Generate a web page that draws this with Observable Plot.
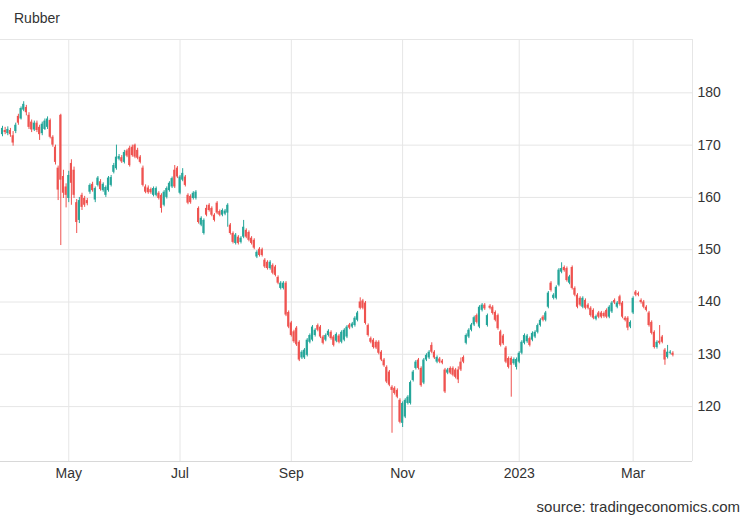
<!DOCTYPE html>
<html><head><meta charset="utf-8">
<script src="https://cdn.jsdelivr.net/npm/d3@7"></script>
<script src="https://cdn.jsdelivr.net/npm/@observablehq/plot@0.6"></script>
<style>
body{margin:0;background:#fff;font-family:"Liberation Sans",Arial,sans-serif;}
#wrap{position:relative;width:750px;height:520px;overflow:hidden;}
#title{position:absolute;left:14px;top:10px;font-size:14px;color:#333;}
#chart{position:absolute;left:0;top:38px;}
#source{position:absolute;right:10px;top:498px;font-size:15px;color:#333;}
</style></head><body>
<div id="wrap"><div id="title">Rubber</div><div id="chart"></div><div id="source">source: tradingeconomics.com</div></div>
<script>
const opens = [172.0,172.8,172.2,172.8,171.8,172.6,175.5,175.0,176.7,177.2,175.7,174.4,172.9,174.2,173.4,172.2,173.0,173.4,174.7,171.5,169.6,165.6,175.7,164.0,162.0,159.8,166.5,165.2,159.0,155.6,160.4,159.8,159.4,161.0,162.5,159.5,162.3,163.0,161.3,160.4,161.3,162.3,164.8,165.5,167.3,167.6,166.7,168.9,169.4,169.6,170.0,169.0,167.7,165.6,162.0,161.8,161.5,160.4,160.4,160.8,160.4,158.5,160.0,161.3,162.0,165.2,165.6,160.8,163.3,163.9,160.4,160.2,159.8,159.8,157.9,154.7,153.1,157.9,158.5,157.9,156.6,158.9,157.3,156.6,156.8,157.0,154.7,153.1,151.2,152.4,151.4,152.4,153.7,153.3,152.2,151.8,148.6,150.1,150.0,148.0,147.6,146.4,147.0,146.7,144.7,142.6,142.6,143.6,138.0,136.0,134.3,135.0,132.3,129.3,129.3,129.8,132.3,132.7,133.6,135.5,135.2,133.3,132.7,133.6,134.2,133.3,132.5,133.5,132.3,132.7,133.3,135.6,135.2,135.5,136.5,140.0,140.2,139.8,135.5,133.0,132.7,132.3,132.3,130.4,128.9,127.5,126.6,123.7,123.5,123.1,121.2,116.8,118.0,120.6,120.6,125.0,127.3,128.9,127.3,124.5,128.9,129.3,131.7,130.4,128.5,129.1,128.7,127.0,126.4,127.3,127.3,127.0,127.0,128.5,129.4,132.1,133.3,134.6,135.6,137.4,135.2,138.4,139.4,135.5,139.2,139.0,138.0,137.4,134.3,133.5,131.2,129.2,129.2,128.2,127.5,128.5,130.2,132.1,132.4,133.0,132.7,133.3,134.2,135.5,137.1,136.5,139.0,143.6,140.7,140.7,143.2,145.7,146.6,146.4,143.6,146.6,142.6,141.3,140.7,139.0,140.3,139.4,138.8,138.4,136.7,137.9,137.9,137.8,138.4,137.1,138.1,140.3,139.0,141.0,139.8,136.9,136.9,135.2,137.9,141.9,141.6,140.3,140.0,139.0,137.9,136.1,134.2,131.3,132.5,133.3,130.8,129.4,130.2,130.2];
const closes = [173.2,172.4,173.0,172.0,170.4,173.8,174.2,177.0,177.8,176.2,173.4,172.9,174.2,172.8,172.0,174.0,174.6,175.0,171.5,170.0,166.7,161.4,163.3,160.8,160.4,164.2,162.7,160.4,155.2,159.4,158.1,158.5,158.8,162.3,161.3,161.7,163.7,161.5,162.5,161.9,163.7,163.8,166.1,167.7,167.8,166.8,168.6,167.9,166.1,168.0,167.7,167.5,166.7,162.3,161.0,160.9,160.9,161.7,161.7,159.8,157.9,161.0,161.7,162.7,163.6,162.0,163.9,163.9,164.6,162.3,158.9,159.0,160.8,161.0,155.2,156.0,155.6,156.6,157.5,156.6,155.6,157.0,156.6,157.5,157.4,158.5,153.1,151.4,152.8,151.2,152.2,154.3,152.4,151.8,151.2,150.3,149.5,148.9,148.9,146.7,146.4,147.6,145.5,145.1,143.6,143.6,143.6,137.5,135.2,133.6,132.4,131.8,128.9,130.4,130.8,132.7,133.6,135.2,134.6,134.6,133.3,132.1,133.6,134.4,133.0,131.7,133.8,132.3,134.2,134.6,135.2,135.0,135.8,136.9,137.9,138.8,138.8,135.9,133.6,132.3,131.3,131.2,130.2,128.9,127.8,124.7,124.1,123.1,122.5,121.8,117.0,120.6,121.2,121.8,124.6,126.6,128.5,127.3,124.0,128.9,129.8,130.4,130.4,129.3,129.4,128.5,128.3,122.8,127.0,126.4,126.0,125.6,125.1,127.0,128.5,133.6,134.6,135.6,137.0,136.1,139.0,139.4,138.7,137.4,138.8,137.8,136.5,134.9,131.7,132.0,128.5,127.5,127.9,129.0,129.0,130.2,132.3,133.6,133.5,131.7,134.0,134.2,135.5,136.5,136.5,137.9,141.7,142.2,141.3,142.8,146.1,146.4,146.0,144.1,144.8,142.6,141.3,139.0,139.4,140.7,138.8,138.8,137.4,136.9,137.2,137.1,137.1,137.2,137.1,139.0,139.8,139.8,139.8,139.5,137.1,136.5,135.0,136.1,140.7,141.3,141.3,139.9,139.0,138.4,135.5,134.0,131.3,132.3,132.1,132.3,128.9,130.4,130.4,129.8];
const highs = [173.6,173.4,173.5,173.2,172.6,174.2,175.9,177.3,178.3,177.6,176.2,174.8,174.6,174.6,173.8,174.4,175.0,175.4,175.0,171.8,170.0,166.0,175.9,165.2,162.6,165.0,167.2,165.8,159.6,160.0,160.8,160.2,159.8,162.6,162.9,162.0,164.0,163.4,162.8,162.2,164.0,164.2,166.5,170.0,168.2,168.0,169.0,169.2,169.8,170.0,170.2,169.4,168.0,166.0,162.4,162.2,161.8,162.0,162.0,161.1,160.7,161.3,162.0,163.0,163.9,166.1,165.9,164.2,165.5,164.2,160.7,160.5,161.1,161.3,158.2,156.3,155.9,158.5,158.8,158.2,156.9,159.2,157.6,157.8,157.7,158.8,155.0,153.4,153.1,152.7,152.5,155.6,154.0,153.6,152.5,152.1,149.8,150.4,150.3,148.3,147.9,147.9,147.3,147.0,145.0,143.9,143.9,143.9,138.3,136.3,134.6,135.3,132.6,130.7,131.1,133.0,133.9,135.5,134.9,135.8,135.5,133.6,133.9,134.7,134.5,133.6,134.1,133.8,134.5,134.9,135.5,135.9,136.1,137.2,138.2,140.8,140.5,140.1,135.8,133.3,133.0,132.6,132.6,130.7,129.2,127.8,126.9,124.0,123.8,123.4,121.5,120.9,121.5,122.1,124.9,126.9,128.8,129.2,127.6,129.2,130.1,130.7,132.2,130.7,129.7,129.4,129.0,127.3,127.3,127.6,127.6,127.3,127.6,129.3,129.7,133.9,134.9,135.9,137.3,137.7,139.3,139.7,139.7,137.7,139.5,139.3,138.3,137.7,134.6,133.8,131.5,129.5,129.5,129.3,129.3,130.5,132.6,133.9,133.8,133.3,134.3,134.5,135.8,136.8,137.4,138.2,142.0,143.9,141.6,143.1,146.4,147.5,146.9,146.7,145.1,146.9,142.9,141.6,141.0,141.0,140.6,139.7,139.1,138.7,137.5,138.2,138.2,138.1,138.7,139.3,140.1,140.6,140.1,141.3,140.1,137.2,137.2,136.4,141.0,142.2,141.9,140.6,140.3,139.3,138.2,136.4,134.5,132.6,135.5,133.6,131.1,131.7,130.7,130.5];
const lows = [171.6,172.0,171.8,171.5,169.8,172.2,173.8,174.8,176.4,175.6,173.0,172.4,172.6,172.4,170.9,171.8,172.8,173.0,171.2,169.6,166.2,159.4,150.8,159.8,158.0,159.0,158.5,159.8,153.1,155.0,157.5,158.1,158.4,160.6,161.0,159.0,162.0,161.2,161.0,160.0,161.0,162.0,164.5,165.2,167.0,166.5,166.4,167.6,165.8,167.7,167.4,167.2,166.4,162.0,160.7,160.6,160.6,160.1,160.1,159.5,157.0,158.2,159.7,161.0,161.7,161.7,163.6,160.5,163.0,162.0,158.6,158.7,159.5,159.5,154.9,154.4,152.8,156.3,157.2,156.3,155.3,156.7,156.3,156.3,156.5,154.3,152.8,151.1,150.9,150.9,151.1,152.1,152.1,151.5,150.9,150.0,148.3,148.6,148.6,146.4,146.1,146.1,145.2,144.8,143.3,142.3,142.3,137.2,134.9,133.3,132.1,131.5,128.6,129.0,129.0,129.5,132.0,132.4,133.3,134.3,133.0,131.8,132.4,133.3,132.7,131.4,132.2,132.0,132.0,132.4,133.0,134.7,134.9,135.2,136.2,138.5,138.5,135.6,133.3,132.0,131.0,130.9,129.9,128.6,127.5,124.4,123.8,114.9,122.2,121.5,116.7,116.0,117.7,120.3,120.3,124.7,127.0,127.0,123.7,124.2,128.6,129.0,130.1,129.0,128.2,128.2,128.0,122.5,126.1,126.1,125.7,125.3,124.4,126.7,128.2,131.8,133.0,134.3,135.3,135.8,134.9,138.1,138.4,135.2,138.5,137.5,136.2,134.6,131.4,131.7,128.2,127.2,121.8,127.9,127.0,128.2,129.9,131.8,132.1,131.4,132.4,133.0,133.9,135.2,136.2,136.2,138.7,141.9,140.4,140.4,142.9,145.4,145.7,143.8,143.3,142.3,141.0,138.7,139.1,138.7,138.5,138.5,137.1,136.6,136.4,136.8,136.8,136.9,136.8,136.8,137.8,139.5,138.7,139.2,136.8,136.2,134.5,134.9,137.6,141.0,141.0,139.6,138.7,138.1,135.2,133.7,131.0,131.0,131.8,132.0,127.9,129.1,129.9,129.5];
const yTicks = [120, 130, 140, 150, 160, 170, 180];
const monthLabels = ["May", "Jul", "Sep", "Nov", "2023", "Mar"];
const monthTickIdx = [25, 67, 109, 151, 195, 238];

const labelOf = new Map(monthTickIdx.map((d, k) => [d, monthLabels[k]]));
const data = opens.map((o, i) => ({i, open: o, close: closes[i], high: highs[i], low: lows[i], dir: closes[i] >= o ? "up" : "down"}));
const xDom = [-0.755, 260.4];
const yDom = [109.5, 190.2];
const grid = "#e6e6e6";

const chart = Plot.plot({
  width: 750, height: 463,
  marginTop: 1, marginBottom: 40, marginLeft: 0, marginRight: 58,
  style: {fontFamily: '"Liberation Sans", Arial, sans-serif', color: "#333", background: "transparent"},
  x: {type: "linear", domain: xDom, axis: null},
  y: {domain: yDom, axis: null},
  color: {domain: ["up", "down"], range: ["#26a69a", "#ef5350"]},
  marks: [
    Plot.ruleY(yTicks, {stroke: grid, strokeWidth: 1}),
    Plot.ruleX(monthTickIdx, {stroke: grid, strokeWidth: 1}),
    Plot.ruleY([yDom[1]], {stroke: grid, strokeWidth: 1}),
    Plot.ruleX([xDom[1]], {stroke: grid, strokeWidth: 1}),
    Plot.ruleY([yDom[0]], {stroke: "#d8d8d8", strokeWidth: 1}),
    Plot.ruleX(data, {x: "i", y1: "low", y2: "high", stroke: "dir", strokeWidth: 1}),
    Plot.rect(data, {x1: d => d.i - 0.4, x2: d => d.i + 0.4, y1: "open", y2: "close", fill: "dir"}),
    Plot.axisY(yTicks, {anchor: "right", tickSize: 0, tickPadding: 5, fontSize: 14, label: null, fill: "#333"}),
    Plot.axisX(monthTickIdx, {anchor: "bottom", tickSize: 0, tickPadding: 7, fontSize: 14, label: null, fill: "#333", tickFormat: d => labelOf.get(d)})
  ]
});
document.getElementById("chart").appendChild(chart);
</script>
</body></html>
